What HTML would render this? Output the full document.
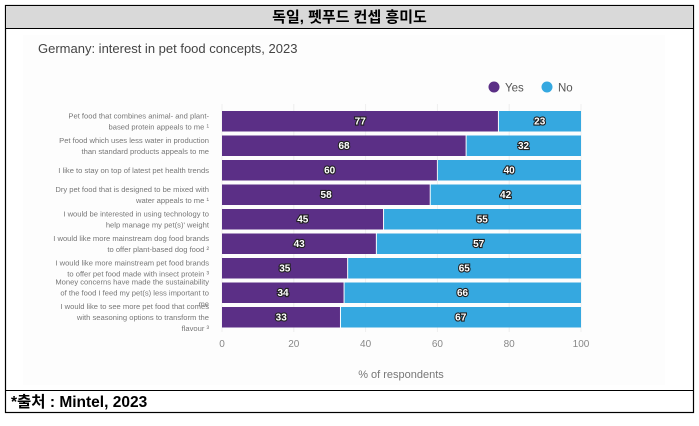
<!DOCTYPE html>
<html><head><meta charset="utf-8"><style>
body{margin:0;width:699px;height:421px;background:#fff;overflow:hidden;font-family:"Liberation Sans","Noto Sans CJK KR",sans-serif}
</style></head><body>
<svg width="699" height="421" xmlns="http://www.w3.org/2000/svg">
<rect x="5.5" y="5.5" width="688" height="407" fill="#fff" stroke="#000" stroke-width="1.2"/>
<rect x="6" y="6" width="687" height="22" fill="#d9d9d9"/>
<line x1="5" y1="28.5" x2="694" y2="28.5" stroke="#000"/>
<text x="349.5" y="22" text-anchor="middle" font-size="15" font-weight="bold" font-family="Liberation Sans, Noto Sans CJK KR, sans-serif">독일, 펫푸드 컨셉 흥미도</text>
<rect x="23" y="35" width="642" height="350" fill="#fdfdfd"/>
<text x="38" y="53" font-size="13" fill="#444">Germany: interest in pet food concepts, 2023</text>
<circle cx="494" cy="87" r="5.5" fill="#5b2f86"/>
<text x="505" y="91.5" font-size="11.5" fill="#555">Yes</text>
<circle cx="547" cy="87" r="5.5" fill="#35a8e0"/>
<text x="558" y="91.5" font-size="11.5" fill="#555">No</text>
<g id="plot"></g>
<text x="401" y="378" text-anchor="middle" font-size="11" fill="#777">% of respondents</text>
<line x1="5" y1="390.5" x2="694" y2="390.5" stroke="#000"/>
<text x="11" y="407" font-size="15.5" font-weight="bold" font-family="Liberation Sans, Noto Sans CJK KR, sans-serif">*출처 : Mintel, 2023</text>
</svg>
<script>
const categories=[
["Pet food that combines animal- and plant-","based protein appeals to me ¹"],
["Pet food which uses less water in production","than standard products appeals to me"],
["I like to stay on top of latest pet health trends"],
["Dry pet food that is designed to be mixed with","water appeals to me ¹"],
["I would be interested in using technology to","help manage my pet(s)' weight"],
["I would like more mainstream dog food brands","to offer plant-based dog food ²"],
["I would like more mainstream pet food brands","to offer pet food made with insect protein ³"],
["Money concerns have made the sustainability","of the food I feed my pet(s) less important to","me"],
["I would like to see more pet food that comes","with seasoning options to transform the","flavour ³"]];
const yesValues=[77,68,60,58,45,43,35,34,33];
const noValues=[23,32,40,42,55,57,65,66,67];
const ticks=[0,20,40,60,80,100];
const NS="http://www.w3.org/2000/svg";
const g=document.getElementById('plot');
const x=v=>222+v*3.59;
const yc=i=>121+i*24.5;
function mk(t,a,p){const e=document.createElementNS(NS,t);for(const k in a)e.setAttribute(k,a[k]);(p||g).appendChild(e);return e;}
ticks.forEach((t,i)=>{
 const l=mk('line',{x1:x(t),x2:x(t),y1:104,y2:332,stroke:'#eee'});
 
 
 const tx=mk('text',{x:x(t),y:347,'text-anchor':'middle','font-size':10,fill:'#888'});
 tx.textContent=t;
 
 
});
function lbl(cx,cy,v){
 const t=mk('text',{x:cx,y:cy+3.5,'text-anchor':'middle','font-size':10,'font-weight':'bold',fill:'#fff',stroke:'#222','stroke-width':2.2,'paint-order':'stroke'});
 t.textContent=v;
 
 
}
categories.forEach((c,i)=>{
 const y=yc(i);
 const b1=mk('rect',{x:x(0),y:y-10,width:x(yesValues[i])-x(0)-0.5,height:20.5,fill:'#5b2f86'});
 
 
 const b2=mk('rect',{x:x(yesValues[i])+0.5,y:y-10,width:x(yesValues[i]+noValues[i])-x(yesValues[i])-0.5,height:20.5,fill:'#35a8e0'});
 
 
 lbl((x(0)+x(yesValues[i]))/2,y,yesValues[i]);
 lbl((x(yesValues[i])+x(yesValues[i]+noValues[i]))/2,y,noValues[i]);
 const n=c.length;
 c.forEach((line,j)=>{
  const t=mk('text',{x:209,y:y+3-(n-1)*5.5+j*11,'text-anchor':'end','font-size':7.6,fill:'#777'});
  t.textContent=line;
  
  
 });
});
</script>
</body></html>
